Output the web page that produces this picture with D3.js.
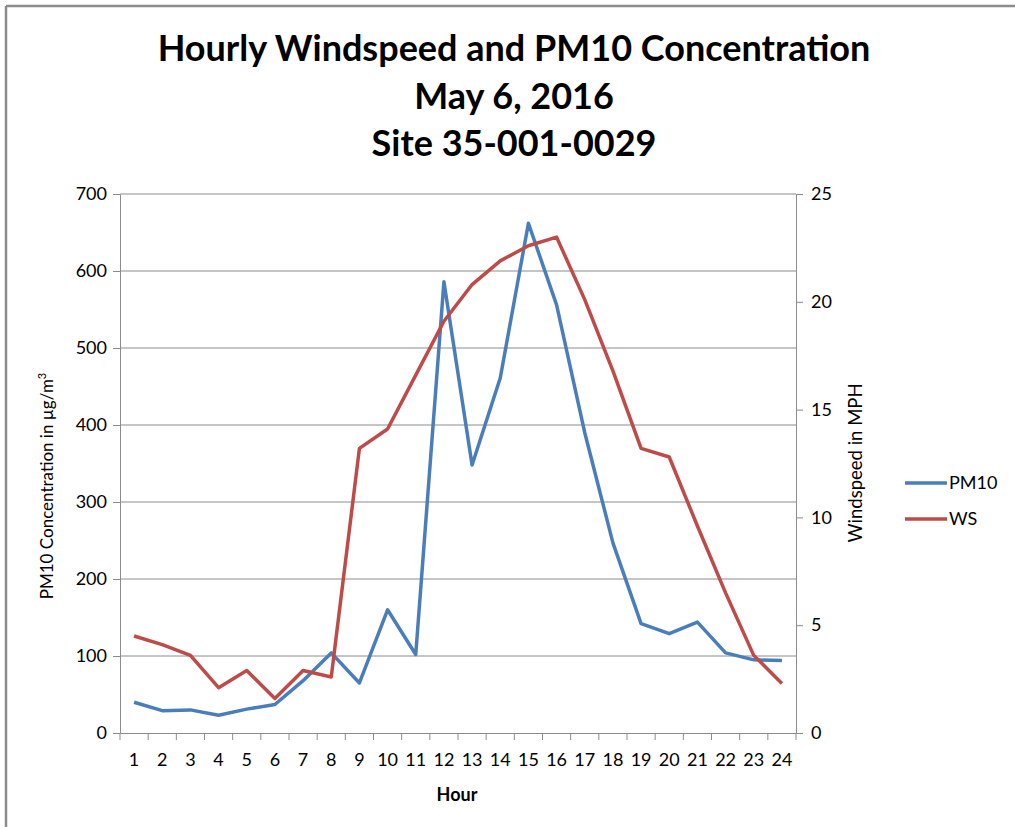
<!DOCTYPE html>
<html>
<head>
<meta charset="utf-8">
<script src="https://cdn.jsdelivr.net/npm/d3@7"></script>
<style>
  body { margin: 0; background: #fff; }
  svg { display: block; }
  text { font-family: Lato, "Open Sans", sans-serif; fill: #000; }
</style>
</head>
<body>
<div id="chart"></div>
<script>
var hours = ['1', '2', '3', '4', '5', '6', '7', '8', '9', '10', '11', '12',
    '13', '14', '15', '16', '17', '18', '19', '20', '21', '22', '23', '24'];
var pm10 = [40, 29, 30, 23, 31, 37, 68, 104, 65, 160, 102, 586,
    348, 461, 662, 556, 390, 247, 142, 129, 144, 104, 95, 94];
var ws = [4.5, 4.1, 3.6, 2.1, 2.9, 1.6, 2.9, 2.6, 13.2, 14.1, 16.6, 19.1,
    20.8, 21.9, 22.6, 23.0, 20.1, 16.8, 13.2, 12.8, 9.6, 6.5, 3.6, 2.3];
var leftTicks = [0, 100, 200, 300, 400, 500, 600, 700];
var rightTicks = [0, 5, 10, 15, 20, 25];
var titleLines = ['Hourly Windspeed and PM10 Concentration', 'May 6, 2016', 'Site 35-001-0029'];

var width = 1015, height = 827;
var margin = { top: 194, right: 219, bottom: 94, left: 120 };
var plotW = width - margin.left - margin.right;
var plotH = height - margin.top - margin.bottom;

var svg = d3.select('#chart').append('svg')
    .attr('width', width)
    .attr('height', height);

// outer frame (only top and left edges are visible in the picture)
svg.append('line').attr('x1', 6).attr('x2', width).attr('y1', 6).attr('y2', 6)
    .attr('stroke', '#8c8c8c').attr('stroke-width', 2.5);
svg.append('line').attr('x1', 6).attr('x2', 6).attr('y1', 6).attr('y2', height)
    .attr('stroke', '#8c8c8c').attr('stroke-width', 2.5);

// title
svg.append('g').selectAll('text')
    .data(titleLines)
    .enter().append('text')
    .attr('x', 514)
    .attr('y', function(d, i) { return 61 + i * 47.5; })
    .attr('text-anchor', 'middle')
    .attr('font-size', 36)
    .attr('font-weight', 'bold')
    .text(function(d) { return d; });

var g = svg.append('g').attr('transform', 'translate(' + margin.left + ',' + margin.top + ')');

var x = d3.scaleBand().domain(hours).range([0, plotW]);
var yLeft = d3.scaleLinear().domain([0, 700]).range([plotH, 0]);
var yRight = d3.scaleLinear().domain([0, 25]).range([plotH, 0]);

// gridlines
g.append('g').selectAll('line')
    .data(leftTicks.slice(1))
    .enter().append('line')
    .attr('x1', 0).attr('x2', plotW)
    .attr('y1', function(d) { return yLeft(d); })
    .attr('y2', function(d) { return yLeft(d); })
    .attr('stroke', '#8c8c8c').attr('stroke-width', 1);

function styleAxis(sel) {
    sel.select('.domain').attr('stroke', '#8c8c8c');
    sel.selectAll('.tick line').attr('stroke', '#8c8c8c');
    sel.selectAll('.tick text').attr('font-size', 18).attr('fill', '#000')
        .style('font-family', 'Lato, "Open Sans", sans-serif');
}

var axLeft = g.append('g')
    .call(d3.axisLeft(yLeft).tickValues(leftTicks).tickSize(7).tickSizeOuter(0).tickPadding(6));
styleAxis(axLeft);

var axRight = g.append('g').attr('transform', 'translate(' + plotW + ',0)')
    .call(d3.axisRight(yRight).tickValues(rightTicks).tickSize(7).tickSizeOuter(0).tickPadding(8));
styleAxis(axRight);

var axBottom = g.append('g').attr('transform', 'translate(0,' + plotH + ')')
    .call(d3.axisBottom(x).tickSize(0).tickPadding(20));
styleAxis(axBottom);
// category tick marks sit on the band edges
axBottom.selectAll('.edge')
    .data(d3.range(hours.length + 1))
    .enter().append('line')
    .attr('class', 'edge')
    .attr('x1', function(i) { return i * x.step(); })
    .attr('x2', function(i) { return i * x.step(); })
    .attr('y1', 0).attr('y2', 7)
    .attr('stroke', '#8c8c8c');

// series lines
var linePm = d3.line()
    .x(function(d, i) { return x(hours[i]) + x.bandwidth() / 2; })
    .y(function(d) { return yLeft(d); });
var lineWs = d3.line()
    .x(function(d, i) { return x(hours[i]) + x.bandwidth() / 2; })
    .y(function(d) { return yRight(d); });

g.append('path').datum(pm10)
    .attr('d', linePm)
    .attr('fill', 'none')
    .attr('stroke', '#4a7ebb')
    .attr('stroke-width', 3.5)
    .attr('stroke-linejoin', 'round');

g.append('path').datum(ws)
    .attr('d', lineWs)
    .attr('fill', 'none')
    .attr('stroke', '#be4b48')
    .attr('stroke-width', 3.5)
    .attr('stroke-linejoin', 'round');

// axis titles
var leftLabel = svg.append('text')
    .attr('transform', 'translate(53,486) rotate(-90)')
    .attr('text-anchor', 'middle')
    .attr('font-size', 17);
leftLabel.append('tspan').text('PM10 Concentration in \u00b5g/m');
leftLabel.append('tspan').attr('dy', -7).attr('font-size', 11).text('3');

svg.append('text')
    .attr('transform', 'translate(862,463) rotate(-90)')
    .attr('text-anchor', 'middle')
    .attr('font-size', 18.5)
    .text('Windspeed in MPH');

svg.append('text')
    .attr('x', 457)
    .attr('y', 801)
    .attr('text-anchor', 'middle')
    .attr('font-size', 18)
    .attr('font-weight', 'bold')
    .text('Hour');

// legend
var legendItems = [{ name: 'PM10', color: '#4a7ebb' }, { name: 'WS', color: '#be4b48' }];
var legend = svg.append('g').attr('transform', 'translate(905,483)');
var li = legend.selectAll('g')
    .data(legendItems)
    .enter().append('g')
    .attr('transform', function(d, i) { return 'translate(0,' + i * 36 + ')'; });
li.append('line')
    .attr('x1', 0).attr('x2', 42)
    .attr('stroke', function(d) { return d.color; })
    .attr('stroke-width', 3.5);
li.append('text')
    .attr('x', 44)
    .attr('dy', '0.35em')
    .attr('font-size', 18)
    .text(function(d) { return d.name; });
</script>
</body>
</html>
